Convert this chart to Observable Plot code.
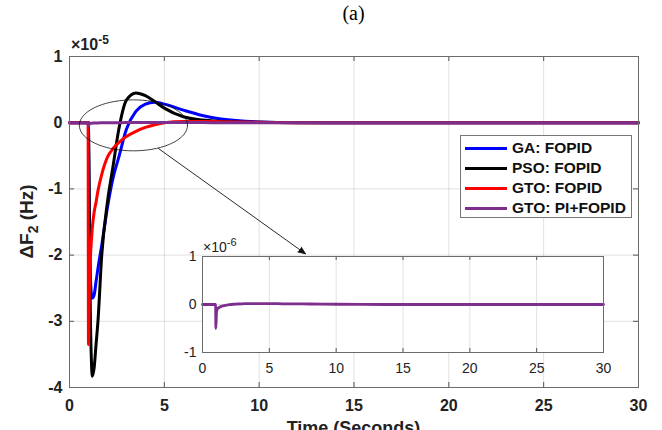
<!DOCTYPE html>
<html><head><meta charset="utf-8">
<script src="https://cdn.jsdelivr.net/npm/d3@7"></script>
<script src="https://cdn.jsdelivr.net/npm/@observablehq/plot@0.6"></script>
<style>
body{margin:0;background:#fff;}
#wrap{position:relative;width:662px;height:430px;overflow:hidden;font-family:"Liberation Sans",Arial,sans-serif;}
#main{position:absolute;left:0;top:0;}
#inset{position:absolute;left:160px;top:236px;}
#legend{position:absolute;left:460px;top:135px;width:172px;height:83px;border:1px solid #777;background:#fff;box-sizing:border-box;}
.item{position:absolute;left:4px;height:20px;display:flex;align-items:center;}
.sw{width:42px;height:3px;}
.lab{margin-left:5px;font:bold 15.5px "Liberation Sans",Arial,sans-serif;color:#111;white-space:nowrap;}
</style></head><body>
<div id="wrap"><div id="main"></div><div id="inset"></div><div id="legend"></div></div>
<script>
// time in seconds
const time = [0, 0.98, 1.0, 1.05, 1.1, 1.15, 1.2, 1.3, 1.4, 1.5, 1.7, 2.0, 2.3, 2.6, 3.0, 3.5, 4.0, 4.5, 5.0, 6.0, 7.0, 8.0, 10, 12, 15, 20, 30];
// ΔF2 in units of 1e-5 Hz
const gaFopid  = [0, 0, 0, -1.6, -2.3, -2.58, -2.65, -2.6, -2.4, -2.2, -1.85, -1.28, -0.83, -0.52, -0.1, 0.17, 0.28, 0.31, 0.28, 0.19, 0.11, 0.055, 0.012, 0.002, 0, 0, 0];
const psoFopid = [0, 0, 0, -1.6, -2.9, -3.55, -3.83, -3.7, -3.35, -3.0, -2.0, -1.2, -0.65, -0.1, 0.34, 0.45, 0.41, 0.32, 0.22, 0.09, 0.04, 0.02, 0.005, 0, 0, 0, 0];
const gtoFopid = [0, 0, -3.35, -2.5, -2.05, -1.8, -1.6, -1.35, -1.2, -1.03, -0.78, -0.52, -0.39, -0.3, -0.21, -0.13, -0.07, -0.03, 0, 0.02, 0.02, 0.015, 0.005, 0, 0, 0, 0];
// GTO: PI+FOPID in units of 1e-6 Hz (inset scale)
const gtoPiFopid = [0, 0, -0.5, -0.15, -0.1, -0.08, -0.07, -0.05, -0.04, -0.03, -0.02, -0.005, 0.005, 0.01, 0.015, 0.02, 0.02, 0.02, 0.02, 0.015, 0.012, 0.01, 0.005, 0.002, 0, 0, 0];

const seriesNames = ["GA: FOPID", "PSO: FOPID", "GTO: FOPID", "GTO: PI+FOPID"];
const seriesColors = ["#0000ff", "#000000", "#ff0000", "#7e2f8e"];
const xTicks = [0, 5, 10, 15, 20, 25, 30];
const yTicks = [-4, -3, -2, -1, 0, 1];
const insetYTicks = [-1, 0, 1];

// zoom annotation (ellipse center/radii and arrow ends, data units)
const ellipseSpec = {cx: 3.37, cy: -0.04, rx: 2.85, ry: 0.385};
const arrowSpec = [{x1: 4.69, y1: -0.39, x2: 12.44, y2: -1.98}];

const seriesVals = [gaFopid, psoFopid, gtoFopid, gtoPiFopid.map(v => v / 10)];
const rows = [];
seriesVals.forEach((vals, s) => time.forEach((t, i) => rows.push({t, v: vals[i], s})));
const ellipsePts = d3.range(0, 361, 5).map(a => ({
  x: ellipseSpec.cx + ellipseSpec.rx * Math.cos(a * Math.PI / 180),
  y: ellipseSpec.cy + ellipseSpec.ry * Math.sin(a * Math.PI / 180)
}));

const W = 662, H = 430, mL = 69, mR = 24, mT = 56, mB = 43;
const pw = W - mL - mR, ph = H - mT - mB;
const gridStyle = {stroke: "#000", strokeOpacity: 0.12};
const tickStyle = {stroke: "#555", strokeWidth: 1};

const main = Plot.plot({
  width: W, height: H, marginLeft: mL, marginRight: mR, marginTop: mT, marginBottom: mB,
  style: {fontFamily: '"Liberation Sans",Arial,sans-serif', fontSize: "16px", fontWeight: "bold", color: "#222", background: "transparent"},
  x: {domain: [0, 30]},
  y: {domain: [-4, 1]},
  marks: [
    Plot.gridX(xTicks, gridStyle),
    Plot.gridY(yTicks, gridStyle),
    Plot.ruleX(xTicks, {...tickStyle, insetTop: ph - 5}),
    Plot.ruleX(xTicks, {...tickStyle, insetBottom: ph - 5}),
    Plot.ruleY(yTicks, {...tickStyle, insetRight: pw - 5}),
    Plot.ruleY(yTicks, {...tickStyle, insetLeft: pw - 5}),
    Plot.axisX(xTicks, {tickSize: 0, tickPadding: 12, label: null, tickFormat: d => String(d)}),
    Plot.axisY(yTicks, {tickSize: 0, tickPadding: 7, label: null, tickFormat: d => String(d)}),
    ...seriesNames.map((name, s) => Plot.line(rows.filter(r => r.s === s), {x: "t", y: "v", stroke: seriesColors[s], strokeWidth: 3, curve: "monotone-x"})),
    Plot.line(ellipsePts, {x: "x", y: "y", stroke: "#111", strokeWidth: 0.8, curve: "linear"}),
    Plot.arrow(arrowSpec, {x1: "x1", y1: "y1", x2: "x2", y2: "y2", stroke: "#111", fill: "#111", strokeWidth: 0.9, headLength: 13, headAngle: 45}),
    Plot.frame({stroke: "#6b6b6b"})
  ]
});
document.getElementById("main").appendChild(main);

const svg = d3.select(main);
const xs = main.scale("x"), ys = main.scale("y");
// title
svg.append("text").attr("x", (xs.apply(0) + xs.apply(30)) / 2).attr("y", 20).attr("text-anchor", "middle")
  .style("font-family", '"Liberation Serif","Times New Roman",serif').style("font-size", "20px").style("font-weight", "normal")
  .attr("fill", "#000").text("(a)");
// exponent
const ex = svg.append("text").attr("x", xs.apply(0) + 2).attr("y", mT - 6).attr("text-anchor", "start").attr("fill", "#222").style("font-size", "16px");
ex.append("tspan").text("×10");
ex.append("tspan").attr("dy", -6).style("font-size", "12px").text("-5");
// y label
const yl = svg.append("text").attr("transform", `translate(33,${(ys.apply(1) + ys.apply(-4)) / 2}) rotate(-90)`)
  .attr("text-anchor", "middle").attr("fill", "#222").style("font-size", "19px");
yl.append("tspan").text("ΔF");
yl.append("tspan").attr("dy", 5).style("font-size", "14px").text("2");
yl.append("tspan").attr("dy", -5).text(" (Hz)");
// x label
svg.append("text").attr("x", (xs.apply(0) + xs.apply(30)) / 2).attr("y", 434).attr("text-anchor", "middle")
  .attr("fill", "#222").style("font-size", "18px").text("Time (Seconds)");

// inset
const iW = 460, iH = 145, imL = 42, imR = 17, imT = 20, imB = 29;
const ipw = iW - imL - imR, iph = iH - imT - imB;
const insetRows = time.map((t, i) => ({t, v: gtoPiFopid[i]}));
const inset = Plot.plot({
  width: iW, height: iH, marginLeft: imL, marginRight: imR, marginTop: imT, marginBottom: imB,
  style: {fontFamily: '"Liberation Sans",Arial,sans-serif', fontSize: "14px", fontWeight: "normal", color: "#222", background: "transparent"},
  x: {domain: [0, 30]},
  y: {domain: [-1, 1]},
  marks: [
    Plot.frame({fill: "#fff", stroke: null}),
    Plot.gridX(xTicks, gridStyle),
    Plot.gridY(insetYTicks, gridStyle),
    Plot.ruleX(xTicks, {...tickStyle, insetTop: iph - 4}),
    Plot.ruleX(xTicks, {...tickStyle, insetBottom: iph - 4}),
    Plot.ruleY(insetYTicks, {...tickStyle, insetRight: ipw - 4}),
    Plot.ruleY(insetYTicks, {...tickStyle, insetLeft: ipw - 4}),
    Plot.axisX(xTicks, {tickSize: 0, tickPadding: 11, label: null, tickFormat: d => String(d)}),
    Plot.axisY(insetYTicks, {tickSize: 0, tickPadding: 6, label: null, tickFormat: d => String(d)}),
    Plot.line(insetRows, {x: "t", y: "v", stroke: seriesColors[3], strokeWidth: 2.8, curve: "monotone-x"}),
    Plot.frame({stroke: "#6b6b6b"})
  ]
});
document.getElementById("inset").appendChild(inset);
const isvg = d3.select(inset);
const ixs = inset.scale("x");
const iex = isvg.append("text").attr("x", ixs.apply(0) + 1).attr("y", imT - 4).attr("text-anchor", "start").attr("fill", "#222").style("font-size", "14px");
iex.append("tspan").text("×10");
iex.append("tspan").attr("dy", -6).style("font-size", "11px").text("-6");

// legend
const leg = d3.select("#legend");
seriesNames.forEach((name, s) => {
  const it = leg.append("div").attr("class", "item").style("top", (2 + s * 20) + "px");
  it.append("div").attr("class", "sw").style("background", seriesColors[s]);
  it.append("div").attr("class", "lab").text(name);
});
</script>
</body></html>
